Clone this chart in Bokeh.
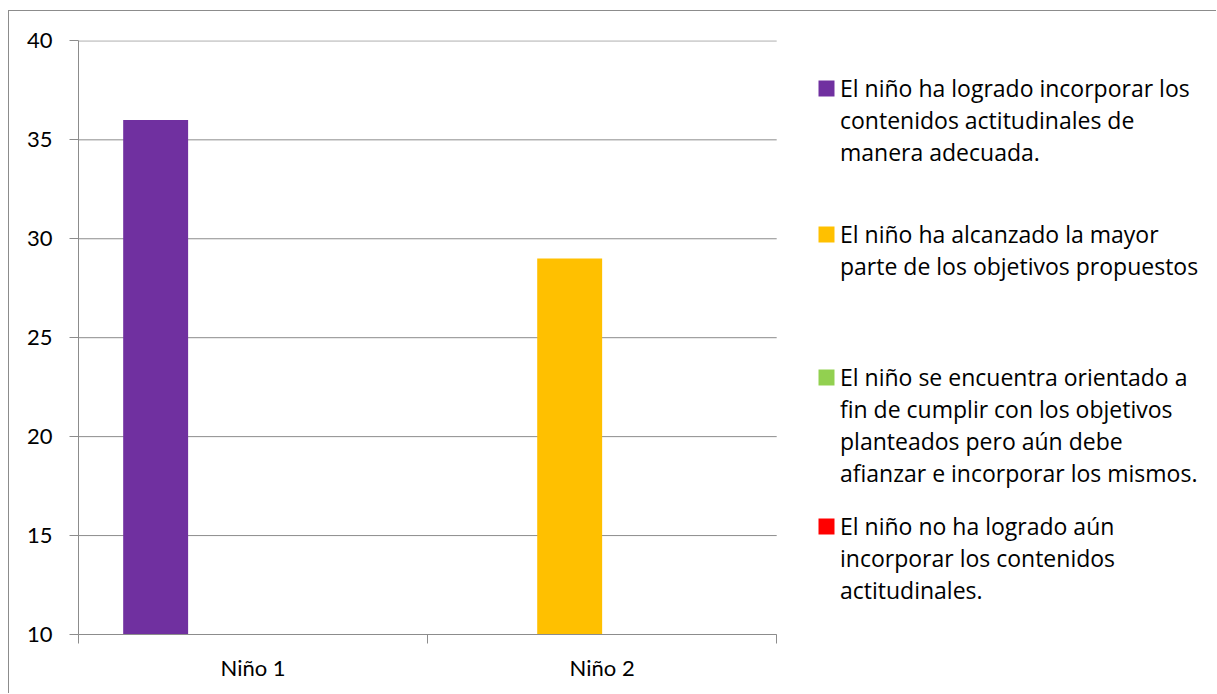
from bokeh.plotting import figure
from bokeh.models import FixedTicker, Legend, LegendItem, Range1d
from bokeh.embed import file_html
from bokeh.resources import INLINE

categories = ["Niño 1", "Niño 2"]
series_lines = [
    ["El niño ha logrado incorporar los", "contenidos actitudinales de", "manera adecuada."],
    ["El niño ha alcanzado la mayor", "parte de los objetivos propuestos"],
    ["El niño se encuentra orientado a", "fin de cumplir con los objetivos",
     "planteados pero aún debe", "afianzar e incorporar los mismos."],
    ["El niño no ha logrado aún", "incorporar los contenidos", "actitudinales."],
]
series_values = [
    [36, 0],
    [0, 29],
    [0, 0],
    [0, 0],
]
series_colors = ["#7030A0", "#FFC000", "#92D050", "#FF0000"]
y_ticks = [10, 15, 20, 25, 30, 35, 40]

FONT = "Lato"
LFONT = "Open Sans"
GRID = "#8c8c8c"
NCAT = len(categories)

p = figure(width=1208, height=683, output_backend="svg", toolbar_location=None,
           x_range=Range1d(0, 3.257), y_range=Range1d(10, 40.02),
           min_border_left=69, min_border_top=29, min_border_right=2, min_border_bottom=60)
p.margin = (11, 0, 0, 9)
p.styles = {"box-shadow": "-1px -1px 0 0 #8c8c8c"}
p.outline_line_color = None
p.background_fill_color = "white"
p.xgrid.grid_line_color = None
p.ygrid.grid_line_color = None

# horizontal gridlines limited to the category area
p.segment(x0=[0] * len(y_ticks), x1=[NCAT] * len(y_ticks), y0=y_ticks, y1=y_ticks,
          line_color=GRID, line_width=1)

bar_w = 0.186
n = len(series_values)
renderers = []
for j, (vals, col) in enumerate(zip(series_values, series_colors)):
    xs = [i + 0.5 + (j - (n - 1) / 2) * bar_w for i in range(NCAT)]
    r = p.vbar(x=xs, top=vals, bottom=0, width=bar_w, fill_color=col, line_color=None)
    renderers.append(r)

# y axis
p.yaxis.ticker = FixedTicker(ticks=y_ticks)
p.yaxis.axis_line_color = GRID
p.yaxis.major_tick_line_color = GRID
p.yaxis.major_tick_out = 9
p.yaxis.major_tick_in = 0
p.yaxis.minor_tick_line_color = None
p.yaxis.major_label_standoff = 17
p.yaxis.major_label_text_font = FONT
p.yaxis.major_label_text_font_size = "22px"
p.yaxis.major_label_text_color = "black"
p.yaxis.bounds = (10, 40)

# x axis: labels at category centres, ticks at boundaries
p.xaxis.ticker = FixedTicker(ticks=[i + 0.5 for i in range(NCAT)],
                             minor_ticks=list(range(NCAT + 1)))
p.xaxis.major_label_overrides = {i + 0.5: c for i, c in enumerate(categories)}
p.xaxis.bounds = (0, NCAT)
p.xaxis.axis_line_color = GRID
p.xaxis.major_tick_line_color = None
p.xaxis.major_tick_out = 0
p.xaxis.major_tick_in = 0
p.xaxis.minor_tick_line_color = GRID
p.xaxis.minor_tick_out = 9
p.xaxis.minor_tick_in = 0
p.xaxis.major_label_standoff = 10
p.xaxis.major_label_text_font = FONT
p.xaxis.major_label_text_font_size = "22px"
p.xaxis.major_label_text_color = "black"

# legends (one per entry, one item per text line)
ROW = 31
legend_bottoms = [466, 352, 145, 28]
for lines, r, yb in zip(series_lines, renderers, legend_bottoms):
    items = [LegendItem(label=lines[0], renderers=[r])]
    items += [LegendItem(label=t, renderers=[]) for t in lines[1:]]
    lg = Legend(items=items, location=(738, yb),
                padding=0, margin=0, spacing=0, border_line_color=None,
                background_fill_alpha=0, glyph_width=20, glyph_height=20,
                label_standoff=4, label_text_font=LFONT, label_text_font_size="23px",
                label_text_color="black", label_height=ROW)
    p.add_layout(lg)

open("out.html", "w").write(file_html(p, INLINE))
